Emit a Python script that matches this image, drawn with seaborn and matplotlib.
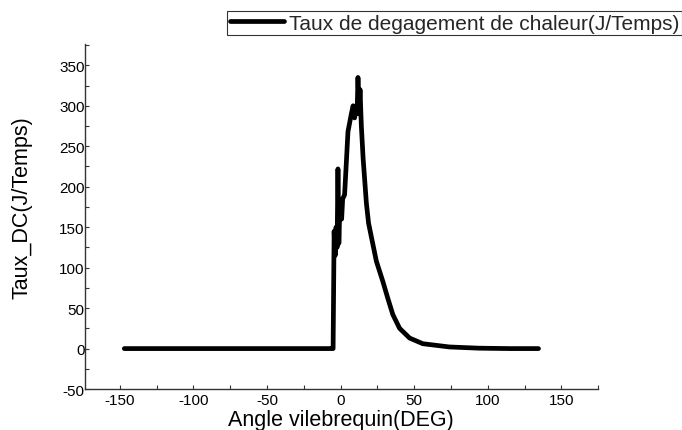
import numpy as np
import pandas as pd
import matplotlib
matplotlib.use("Agg")
import matplotlib.pyplot as plt
from matplotlib.ticker import MultipleLocator
import seaborn as sns

# heat release rate
angle = [-147, -120, -90, -60, -30, -6, -5.1, -4.4, -3.7, -3.1, -2.4, -1.8, -1.2,
         -0.5, 0.7, 1.4, 2.7, 3.9, 5.0, 7.3, 8.5, 9.5, 10.5, 11.2, 11.8, 12.6,
         13.2, 14.1, 15.3, 17.5, 19.0, 20.9, 24.3, 28.7, 32.1, 35.5, 40.1, 46.9,
         55.9, 74, 94, 115, 134.5]
taux = [0, 0, 0, 0, 0, 0, 0, 145, 115, 150, 125, 222, 130,
        175, 160, 185, 190, 230, 268, 290, 300, 285, 300, 290, 335, 290,
        320, 275, 235, 180, 155, 138, 108, 83, 62, 42, 25, 13,
        6, 2, 0.5, 0, 0]

df = pd.DataFrame({"angle": angle, "taux": taux})

sns.set_style("white")
plt.rcParams["font.family"] = ["Liberation Sans", "DejaVu Sans"]
plt.rcParams["axes.unicode_minus"] = False

fig = plt.figure(figsize=(6.82, 4.31), dpi=100)
ax = fig.add_axes([0.124, 0.095, 0.753, 0.80])

sns.lineplot(data=df, x="angle", y="taux", color="black", linewidth=3.4,
             ax=ax, label="Taux de degagement de chaleur(J/Temps)")

ax.set_xlim(-174, 175)
ax.set_ylim(-50, 376)
ax.xaxis.set_major_locator(MultipleLocator(50))
ax.xaxis.set_minor_locator(MultipleLocator(25))
ax.yaxis.set_major_locator(MultipleLocator(50))
ax.yaxis.set_minor_locator(MultipleLocator(25))
ax.tick_params(which="both", direction="in", length=3, width=0.8, color="#333333",
               bottom=True, left=True, labelsize=11, labelcolor="black", pad=0)
ax.tick_params(axis="x", pad=3)

for side in ["top", "right"]:
    ax.spines[side].set_visible(False)
for side in ["left", "bottom"]:
    ax.spines[side].set_color("#333333")
    ax.spines[side].set_linewidth(1.0)

ax.set_xlabel("Angle vilebrequin(DEG)", fontsize=15.5, labelpad=1, color="black")
ax.set_ylabel("Taux_DC(J/Temps)", fontsize=15.5, color="black")
ax.yaxis.set_label_coords(-0.101, 0.53)

leg = ax.legend(loc="upper right", bbox_to_anchor=(1.0, 0.972),
                bbox_transform=fig.transFigure, fontsize=15, frameon=True,
                fancybox=False, handlelength=2.6, borderpad=0.12,
                handletextpad=0.25, borderaxespad=0)
leg.get_frame().set_edgecolor("black")
leg.get_frame().set_linewidth(0.8)

fig.savefig("out.png", dpi=100)
